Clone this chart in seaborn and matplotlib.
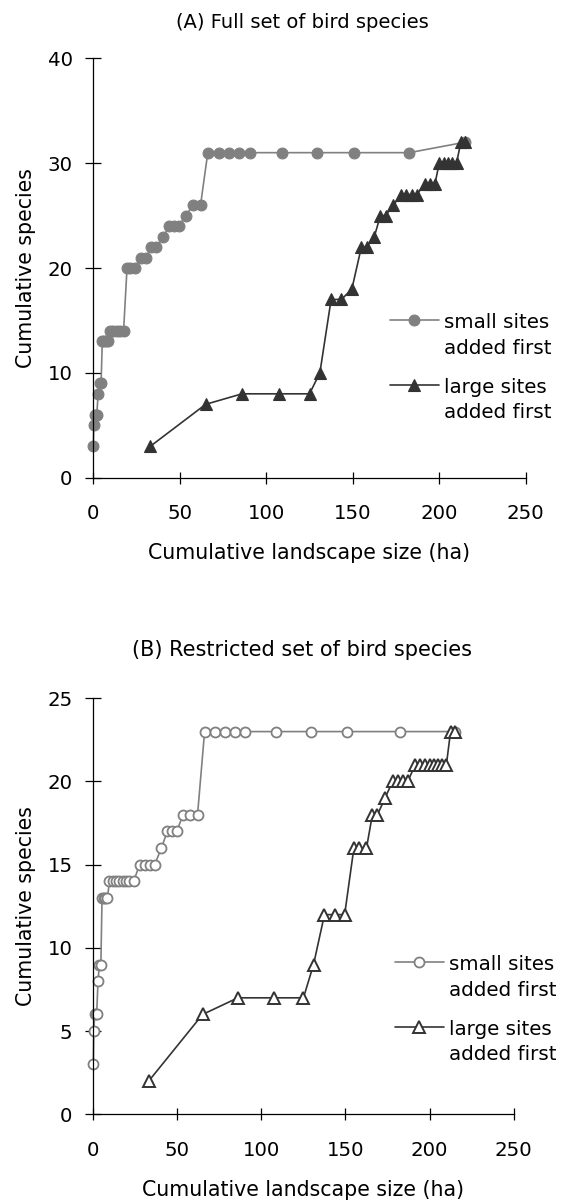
import matplotlib
matplotlib.use("Agg")
import matplotlib.pyplot as plt
import seaborn as sns
import pandas as pd

# ---------------- data ----------------
small_x = [0, 0.3, 0.8, 1.4, 2.0, 2.8, 3.6, 4.5, 5.2, 6.2, 7.2, 8.4,
           9.6, 11.5, 13.5, 15.5, 17.5, 19.5, 21.5, 24, 27.5, 30.5, 33.5, 36.5,
           40.5, 44, 46.8, 49.5, 53.5, 57.7, 62, 66.2, 72.5, 78.2, 84.3, 90.4,
           108.9, 129.5, 150.7, 182.7, 215]
small_a = [3, 5, 6, 6, 6, 8, 9, 9, 13, 13, 13, 13,
           14, 14, 14, 14, 14, 20, 20, 20, 21, 21, 22, 22,
           23, 24, 24, 24, 25, 26, 26, 31, 31, 31, 31, 31,
           31, 31, 31, 31, 32]
small_b = [3, 5, 6, 6, 6, 8, 9, 9, 13, 13, 13, 13,
           14, 14, 14, 14, 14, 14, 14, 14, 15, 15, 15, 15,
           16, 17, 17, 17, 18, 18, 18, 23, 23, 23, 23, 23,
           23, 23, 23, 23, 23]

large_x = [33, 65, 86, 107.5, 125, 131, 137.5, 143.5, 149.5, 155, 158, 162.5,
           166, 169, 173.5, 178, 181, 184, 187, 191.5, 194.5, 197.5,
           200, 202.5, 205, 207.5, 210, 212.5, 215]
large_a = [3, 7, 8, 8, 8, 10, 17, 17, 18, 22, 22, 23,
           25, 25, 26, 27, 27, 27, 27, 28, 28, 28,
           30, 30, 30, 30, 30, 32, 32]
large_b = [2, 6, 7, 7, 7, 9, 12, 12, 12, 16, 16, 16,
           18, 18, 19, 20, 20, 20, 20, 21, 21, 21,
           21, 21, 21, 21, 21, 23, 23]

x_ticks = [0, 50, 100, 150, 200, 250]
y_ticks_a = [0, 10, 20, 30, 40]
y_ticks_b = [0, 5, 10, 15, 20, 25]
titles = ["(A) Full set of bird species", "(B) Restricted set of bird species"]
series_labels = ["small sites\nadded first", "large sites\nadded first"]
x_label = "Cumulative landscape size (ha)"
y_label = "Cumulative species"

# ---------------- style ----------------
sns.set_theme(style="white")
plt.rcParams['font.family'] = ['DejaVu Sans']
plt.rcParams['axes.facecolor'] = 'white'
plt.rcParams['figure.facecolor'] = 'white'

W, H = 562, 1201
fig = plt.figure(figsize=(W / 100, H / 100), dpi=100)


def px_rect(l, r, t, b):
    return [l / W, 1 - b / H, (r - l) / W, (b - t) / H]


GREY = '#808080'
DARK = '#333333'
FS_TICK = 14.2
FS_LAB = 14.8
FS_LEG = 14.3


def panel(ax, box, sy, ly, yticks, filled, leg_anchor, title, title_xy, title_fs, xlab_top):
    l, r, t, b = box
    df_s = pd.DataFrame({'x': small_x, 'y': sy})
    df_l = pd.DataFrame({'x': large_x, 'y': ly})
    if filled:
        s_kw = dict(marker='o', markersize=7.8, markerfacecolor=GREY, markeredgecolor=GREY,
                    markeredgewidth=0.8)
        l_kw = dict(marker='^', markersize=8.5, markerfacecolor=DARK, markeredgecolor=DARK,
                    markeredgewidth=0.8)
    else:
        s_kw = dict(marker='o', markersize=7.2, markerfacecolor='white', markeredgecolor=GREY,
                    markeredgewidth=1.3)
        l_kw = dict(marker='^', markersize=9.0, markerfacecolor='white', markeredgecolor=DARK,
                    markeredgewidth=1.4)
    sns.lineplot(data=df_s, x='x', y='y', ax=ax, sort=False, estimator=None,
                 color=GREY, linewidth=1.2, clip_on=False, label=series_labels[0], **s_kw)
    sns.lineplot(data=df_l, x='x', y='y', ax=ax, sort=False, estimator=None,
                 color=DARK, linewidth=1.2, clip_on=False, label=series_labels[1], **l_kw)

    ax.set_xlim(0, 250)
    ax.set_ylim(0, yticks[-1])
    ax.set_xticks(x_ticks)
    ax.set_yticks(yticks)
    for s in ['top', 'right']:
        ax.spines[s].set_visible(False)
    for s in ['left', 'bottom']:
        ax.spines[s].set_color('black')
        ax.spines[s].set_linewidth(0.9)
    ax.tick_params(axis='y', direction='inout', length=11, width=0.9, color='black',
                   labelsize=FS_TICK, pad=9.4, left=True, labelcolor='black')
    ax.tick_params(axis='x', direction='inout', length=8.5, width=0.9, color='black',
                   labelsize=FS_TICK, pad=14.7, bottom=True, labelcolor='black')
    ax.grid(False)

    ax.set_xlabel(x_label, fontsize=FS_LAB, color='black')
    ax.set_ylabel(y_label, fontsize=FS_LAB, color='black')
    ax.yaxis.set_label_coords((35.7 - l) / (r - l), 0.5)
    ax.xaxis.set_label_coords(0.5, -(xlab_top - b) / (b - t))

    leg = ax.legend(loc='upper left', bbox_to_anchor=leg_anchor, bbox_transform=fig.transFigure,
                    frameon=False, fontsize=FS_LEG, borderpad=0, borderaxespad=0,
                    handlelength=2.45, handletextpad=0.27, labelspacing=1.0,
                    handleheight=0.7, markerscale=1.0)
    for txt in leg.get_texts():
        txt.set_color('black')
        txt.set_linespacing(1.45)
    try:
        for col in leg._legend_handle_box.get_children():
            for row in col.get_children():
                row.align = "top"
    except Exception:
        pass

    fig.text(title_xy[0] / W, 1 - title_xy[1] / H, title, ha='center', va='center',
             fontsize=title_fs, color='black')


boxA = (93.3, 525.7, 58.3, 477.7)
boxB = (93.3, 513.6, 698.3, 1114.3)
axA = fig.add_axes(px_rect(*boxA))
axB = fig.add_axes(px_rect(*boxB))

panel(axA, boxA, small_a, large_a, y_ticks_a, True,
      (390 / W, 1 - 313 / H), titles[0], (302.7, 22.2), 14, 543)
panel(axB, boxB, small_b, large_b, y_ticks_b, False,
      (395 / W, 1 - 955 / H), titles[1], (302, 650.3), 15, 1180)

fig.savefig('out.png', dpi=100)
